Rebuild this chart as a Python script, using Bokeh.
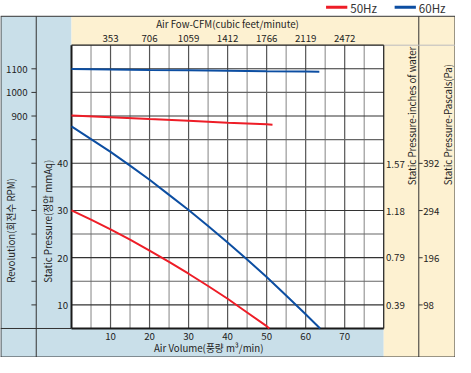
import math
from bokeh.plotting import figure
from bokeh.models import Range1d
from bokeh.core.properties import value
from bokeh.embed import file_html
from bokeh.resources import INLINE

# ---------------- data ----------------
air_60 = [0, 5, 10, 15, 20, 25, 30, 35, 40, 45, 50, 55, 60, 63.7]
sp_60 = [47.8, 45.1, 42.4, 39.5, 36.5, 33.3, 30.1, 26.7, 23.2, 19.6, 15.9, 12.0, 8.0, 5.0]
air_50 = [0, 5, 10, 15, 20, 25, 30, 35, 40, 45, 50, 50.7]
sp_50 = [30.0, 28.05, 26.0, 23.8, 21.5, 19.1, 16.6, 14.0, 11.3, 8.4, 5.5, 5.0]
rpm_air_60 = [0, 10, 20, 30, 40, 50, 60, 63.5]
rpm_60 = [1099, 1097, 1095, 1094, 1092, 1090, 1089, 1088]
rpm_air_50 = [0, 10, 20, 30, 40, 50, 51.5]
rpm_50 = [902, 895, 887, 880, 872, 865, 863]

x_ticks = [10, 20, 30, 40, 50, 60, 70]
cfm_ticks = [353, 706, 1059, 1412, 1766, 2119, 2472]
sp_ticks = [10, 20, 30, 40]
rpm_ticks = [900, 1000, 1100]
rpm_minor = [100, 200, 300, 400, 500, 600, 700, 800]
inch_ticks = [0.39, 0.79, 1.18, 1.57]
inch_labels = ["0.39", "0.79", "1.18", "1.57"]
pa_ticks = [98, 196, 294, 392]

# ---------------- layout (reference pixel canvas) ----------------
W, H = 455, 357
CW, CH = 471.0, 373.0
S = W / CW
PL, PR, PT, PB = 73.5, 396.7, 46.7, 342.7      # plot frame in canvas px
X0, X1, Y0, Y1 = 0.0, 80.0, 5.0, 65.0           # plot frame in data units

kx = (PR - PL) / (X1 - X0)
ky = (PB - PT) / (Y1 - Y0)
xs, xe = X0 - PL / kx, X0 + (CW - PL) / kx
ys, ye = Y0 - (CH - PB) / ky, Y0 + PB / ky

RPM_AT_50, RPM_PER_UNIT = 900.0, 20.0
MM_PER_INCH = 25.4
PA_PER_MM = 9.80665
CFM_PER_M3 = 35.3147

BLUE_BG = "#c9dfe9"
CREAM = "#fdf1d1"
RED = "#ee1d27"
BLUE = "#0c4ea2"
FONT = "Noto Sans CJK KR"
TXT = "#222222"


def fs(px):
    return value(f"{px * S:.1f}px")


p = figure(width=W, height=H, x_range=Range1d(xs, xe), y_range=Range1d(ys, ye),
           x_axis_location=None, y_axis_location=None, min_border=0,
           output_backend="svg", toolbar_location=None,
           background_fill_color="white", border_fill_color="white")
p.outline_line_color = None
p.grid.visible = False
p.extra_x_ranges = {"px": Range1d(0, CW), "cfm": Range1d(xs * CFM_PER_M3, xe * CFM_PER_M3)}
p.extra_y_ranges = {
    "px": Range1d(CH, 0),
    "rpm": Range1d(RPM_AT_50 + (ys - 50) * RPM_PER_UNIT, RPM_AT_50 + (ye - 50) * RPM_PER_UNIT),
    "inch": Range1d(ys / MM_PER_INCH, ye / MM_PER_INCH),
    "pa": Range1d(ys * PA_PER_MM, ye * PA_PER_MM),
}
PX = dict(x_range_name="px", y_range_name="px")

# panels
p.quad(left=[0, 0, PL, PR], right=[PL, PR, CW, CW], top=[16.5, PB, 16.5, PT],
       bottom=[CH, CH, PT, CH], fill_color=[BLUE_BG, BLUE_BG, CREAM, CREAM],
       line_color=None, **PX)
p.quad(left=[X0], right=[X1], bottom=[Y0], top=[Y1], fill_color="white", line_color=None)

# panel lines
p.segment(x0=[0, 0, 0.5, 470.5, 37, 0, 433], y0=[16.5, 372.5, 16.5, 16.5, 16.5, PB, 16.5],
          x1=[CW, CW, 0.5, 470.5, 37, PL, 433], y1=[16.5, 372.5, CH, CH, CH, PB, CH],
          line_color="#333333", line_width=1, **PX)
p.segment(x0=[PR], y0=[PT], x1=[CW], y1=[PT], line_color="#bbbbbb", line_width=1, **PX)

# grid
gx = [X0 + 5 * i for i in range(1, 16)]
p.segment(x0=gx, x1=gx, y0=[Y0] * len(gx), y1=[Y1] * len(gx),
          line_color=["#555555" if v % 10 == 0 else "#999999" for v in gx], line_width=1.2)
gy = [Y0 + 5 * i for i in range(1, 12)]
p.segment(x0=[X0] * len(gy), x1=[X1] * len(gy), y0=gy, y1=gy,
          line_color=["#333333" if v % 10 == 0 else "#666666" for v in gy], line_width=1.1)

# frame
p.segment(x0=[X0, X0, X0, X1], y0=[Y0, Y0, Y1, Y0], x1=[X1, X0, X1, X1], y1=[Y0, Y1, Y1, Y1],
          line_color="#1a1a1a", line_width=[2, 2, 1.2, 1.2])

# curves
p.line(air_50, sp_50, line_color=RED, line_width=2)
p.line(air_60, sp_60, line_color=BLUE, line_width=2)
p.line(rpm_air_50, rpm_50, line_color=RED, line_width=2, y_range_name="rpm")
p.line(rpm_air_60, rpm_60, line_color=BLUE, line_width=2, y_range_name="rpm")

# RPM axis
all_rpm = rpm_minor + rpm_ticks
p.segment(x0=[32] * len(all_rpm), x1=[37] * len(all_rpm), y0=all_rpm, y1=all_rpm,
          line_color="#333333", line_width=1, x_range_name="px", y_range_name="rpm")
p.text(x=[28] * len(rpm_ticks), y=rpm_ticks, text=[str(v) for v in rpm_ticks],
       x_range_name="px", y_range_name="rpm", text_font=value(FONT), text_font_size=fs(10),
       text_align="right", text_baseline="middle", text_color=TXT)

# static pressure labels
p.text(x=[70] * len(sp_ticks), y=sp_ticks, text=[str(v) for v in sp_ticks],
       x_range_name="px", text_font=value(FONT), text_font_size=fs(10),
       text_align="right", text_baseline="middle", text_color=TXT)

# bottom axis
p.text(x=x_ticks, y=[350.5] * len(x_ticks), text=[str(v) for v in x_ticks], y_range_name="px",
       text_font=value(FONT), text_font_size=fs(10), text_align="center",
       text_baseline="middle", text_color=TXT)
p.text(x=[215.5], y=[363.5], text=["Air Volume(풍량 m³/min)"], **PX,
       text_font=value(FONT), text_font_size=fs(10), text_align="center",
       text_baseline="middle", text_color=TXT)

# top axis
p.text(x=cfm_ticks, y=[39.5] * len(cfm_ticks), text=[str(v) for v in cfm_ticks],
       x_range_name="cfm", y_range_name="px", text_font=value(FONT), text_font_size=fs(10),
       text_align="center", text_baseline="middle", text_color=TXT)
p.text(x=[235], y=[25], text=["Air Fow-CFM(cubic feet/minute)"], **PX,
       text_font=value(FONT), text_font_size=fs(10), text_align="center",
       text_baseline="middle", text_color=TXT)

# right axes
p.text(x=[399] * len(inch_ticks), y=inch_ticks, text=inch_labels,
       x_range_name="px", y_range_name="inch", text_font=value(FONT), text_font_size=fs(10),
       text_align="left", text_baseline="middle", text_color=TXT)
p.segment(x0=[433] * len(pa_ticks), x1=[437] * len(pa_ticks), y0=pa_ticks, y1=pa_ticks,
          line_color="#333333", line_width=1, x_range_name="px", y_range_name="pa")
p.text(x=[437.5] * len(pa_ticks), y=pa_ticks, text=[str(v) for v in pa_ticks],
       x_range_name="px", y_range_name="pa", text_font=value(FONT), text_font_size=fs(10),
       text_align="left", text_baseline="middle", text_color=TXT)

# rotated titles
p.text(x=[11, 49, 426, 463], y=[295, 295, 193, 193],
       text=["Revolution(회전수 RPM)", "Static Pressure(정압 mmAq)",
             "Static Pressure-inches of water", "Static Pressure-Pascals(Pa)"],
       angle=math.pi / 2, **PX, text_font=value(FONT), text_font_size=fs(10),
       text_align="left", text_baseline="middle", text_color=TXT)

# legend
p.segment(x0=[337, 408], x1=[359, 430], y0=[7, 7], y1=[7, 7],
          line_color=[RED, BLUE], line_width=3, **PX)
p.text(x=[362, 433], y=[7.5, 7.5], text=["50Hz", "60Hz"], **PX,
       text_font=value(FONT), text_font_size=fs(12), text_align="left",
       text_baseline="middle", text_color="#333333")

open("out.html", "w").write(file_html(p, INLINE))
